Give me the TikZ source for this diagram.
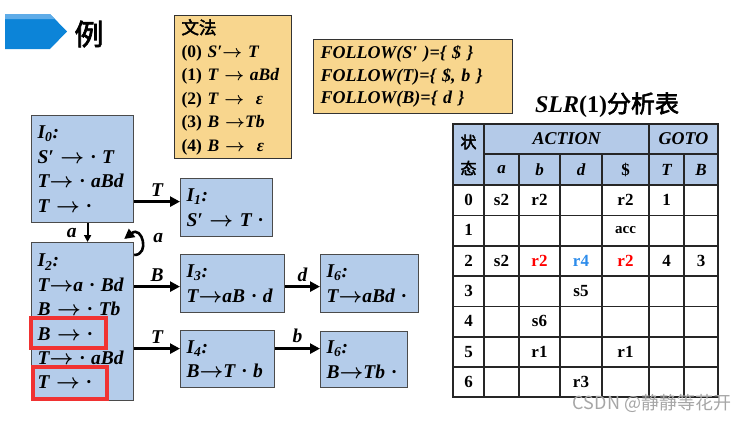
\documentclass[tikz,border=0pt]{standalone}
\usepackage{fontspec}
\setmainfont{Liberation Serif}
\newfontfamily\cjk[AutoFakeBold=2.5]{Noto Sans CJK SC}
\usetikzlibrary{arrows.meta,positioning}

\definecolor{itemblue}{RGB}{180,204,234}
\definecolor{boxline}{RGB}{75,75,75}
\definecolor{gramyellow}{RGB}{248,214,142}
\definecolor{headblue}{RGB}{180,202,232}
\definecolor{markred}{RGB}{240,50,50}
\definecolor{chevblue}{RGB}{12,132,216}
\definecolor{chevlight}{RGB}{95,172,232}
\definecolor{rblue}{RGB}{45,140,235}

\newcommand{\itemfont}{\fontsize{19.5}{24.4}\selectfont\bfseries\itshape}
\newcommand{\cellfont}{\fontsize{17}{18}\selectfont\bfseries}
\newcommand{\arw}{{\boldmath$\rightarrow$}}

\tikzset{
  item/.style={draw=boxline, fill=itemblue, line width=1.2pt, anchor=north west,
    align=left, inner xsep=6pt, inner ysep=3pt, font=\itemfont},
  gram/.style={draw=black!80, fill=gramyellow, line width=1pt, anchor=north west,
    align=left, inner xsep=7pt, inner ysep=3pt, font=\fontsize{17.5}{23.4}\selectfont\bfseries},
  arr/.style={-{Triangle[length=10pt,width=10pt]}, line width=2.8pt},
  arrs/.style={-{Triangle[length=7pt,width=7pt]}, line width=2pt},
  lbl/.style={font=\itemfont, inner sep=1pt},
  hlbox/.style={draw=markred, line width=3.5pt},
  tabline/.style={line width=1.1pt, draw=black!85},
  cell/.style={font=\cellfont, inner sep=0pt},
}

\begin{document}
\begin{tikzpicture}[x=1pt,y=-1pt]
  \useasboundingbox (0,0) rectangle (753,421);

  % heading
  \fill[chevblue] (5,14) -- (50,14) -- (67,31.5) -- (50,49) -- (5,49) -- cycle;
  \fill[chevlight] (5,14) -- (50,14) -- (55,19) -- (5,19) -- cycle;
  \node[font=\cjk\bfseries\fontsize{29}{29}\selectfont, inner sep=0pt] (li) at (89,34) {例};

  % grammar and follow sets
  \node[gram, text width=103pt, minimum height=143pt] (gram) at (174,15)
    {{\cjk\bfseries 文法}\\
     (0) \textit{S′{\arw} T}\\
     (1) \textit{T {\arw} aBd}\\
     (2) \textit{T {\arw}\ \ ε}\\
     (3) \textit{B {\arw}Tb}\\
     (4) \textit{B {\arw}\ \ ε}};
  \node[gram, text width=185pt, minimum height=74pt, font=\fontsize{18}{22.5}\selectfont\bfseries\itshape] (follow) at (313,39)
    {FOLLOW(S′ )=\{ \$ \}\\
     FOLLOW(T)=\{ \$, b \}\\
     FOLLOW(B)=\{ d \}};

  % item sets
  \node[item, text width=90pt, minimum height=107pt] (I0) at (31,115)
    {I\textsubscript{0}:\\ S′ {\arw} · T\\ T{\arw} · aBd\\ T {\arw} ·};
  \node[item, text width=80pt, minimum height=58pt] (I1) at (180,178)
    {I\textsubscript{1}:\\ S′ {\arw} T ·};
  \node[item, text width=90pt, minimum height=158pt] (I2) at (31,242)
    {I\textsubscript{2}:\\ T{\arw}a · Bd\\ B {\arw} · Tb\\ B {\arw} ·\\ T{\arw} · aBd\\ T {\arw} ·};
  \node[item, text width=92pt, minimum height=58pt] (I3) at (180,254)
    {I\textsubscript{3}:\\ T{\arw}aB · d};
  \node[item, text width=86pt, minimum height=58pt] (I5) at (320,254)
    {I\textsubscript{6}:\\ T{\arw}aBd ·};
  \node[item, text width=82pt, minimum height=57pt] (I4) at (180,330)
    {I\textsubscript{4}:\\ B{\arw}T · b};
  \node[item, text width=75pt, minimum height=56pt] (I6) at (320,331)
    {I\textsubscript{6}:\\ B{\arw}Tb ·};

  % highlighted items
  \draw[hlbox] (31,318) rectangle (106,348);
  \draw[hlbox] (33,367) rectangle (107,399);

  % transitions
  \coordinate (t1) at ([yshift=6pt]I1.west);
  \coordinate (t3) at ([yshift=-3pt]I3.west);
  \coordinate (t4) at ([yshift=10.5pt]I4.west);
  \draw[arr] (I0.east |- t1) -- (t1) node[lbl, midway, above=3pt] {T};
  \draw[arr] (I2.east |- t3) -- (t3) node[lbl, midway, above=3pt] {B};
  \draw[arr] (I3.east |- t3) -- (I5.west |- t3) node[lbl, midway, above=3pt] {d};
  \draw[arr] (I2.east |- t4) -- (t4) node[lbl, midway, above=3pt] {T};
  \draw[arr] (I4.east |- t4) -- (I6.west |- t4) node[lbl, midway, above=3pt] {b};
  \draw[arrs] ([xshift=5pt]I0.south) -- ([xshift=5pt]I2.north) node[lbl, midway, left=9pt] {a};
  \draw[arr, line width=2.6pt] ([yshift=-13pt]I2.north east) .. controls +(16,0) and +(18,-14) .. ([xshift=-10pt,yshift=3pt]I2.north east);
  \node[lbl] (la) at ([xshift=24pt,yshift=4pt]I2.north east) {a};

  % SLR(1) table
  \node[font=\fontsize{24}{24}\selectfont\bfseries, inner sep=0pt] (title) at (607,105)
    {\textit{SLR}(1){\cjk\bfseries 分析表}};
  \fill[headblue] (453,124) rectangle (718,185);
  \draw[tabline] (484,154) -- (718,154);
  \foreach \y in {185,215.5,246,276,306.5,337,367}
    \draw[tabline] (453,\y) -- (718,\y);
  \foreach \x in {484,649}
    \draw[tabline] (\x,124) -- (\x,397);
  \foreach \x in {519,560,602,684}
    \draw[tabline] (\x,154) -- (\x,397);
  \draw[tabline] (453,124) rectangle (718,397);

  \node[font=\cjk\bfseries\fontsize{16}{16}\selectfont, inner sep=0pt] at (468.5,142) {状};
  \node[font=\cjk\bfseries\fontsize{16}{16}\selectfont, inner sep=0pt] at (468.5,168) {态};
  \node[cell, font=\fontsize{18}{18}\selectfont\bfseries\itshape] at (566.5,139) {ACTION};
  \node[cell, font=\fontsize{18}{18}\selectfont\bfseries\itshape] at (683.5,139) {GOTO};
  \foreach \x/\t in {501.5/a, 539.5/b, 581/d, 666.5/T, 701/B}
    \node[cell, font=\cellfont\itshape] at (\x,169.5) {\t};
  \node[cell] at (625.5,169.5) {\$};

  \foreach \i in {0,...,6}
    \node[cell] at (468.5,{200+30.33*\i}) {\i};
  \foreach \x/\r/\t in {501.5/0/s2, 539.5/0/r2, 625.5/0/r2, 666.5/0/1,
                        501.5/2/s2, 666.5/2/4, 701/2/3,
                        581/3/s5, 539.5/4/s6, 539.5/5/r1, 625.5/5/r1, 581/6/r3}
    \node[cell] at (\x,{200+30.33*\r}) {\t};
  \node[cell, font=\fontsize{15}{15}\selectfont\bfseries] at (625.5,230.3) {acc};
  \node[cell, text=red] at (539.5,260.7) {r2};
  \node[cell, text=rblue] at (581,260.7) {r4};
  \node[cell, text=red] at (625.5,260.7) {r2};

  % watermark
  \node[font=\cjk\fontsize{18}{18}\selectfont, text=black!35, inner sep=0pt] (wm) at (652,403) {CSDN @静静等花开};
\end{tikzpicture}
\end{document}
